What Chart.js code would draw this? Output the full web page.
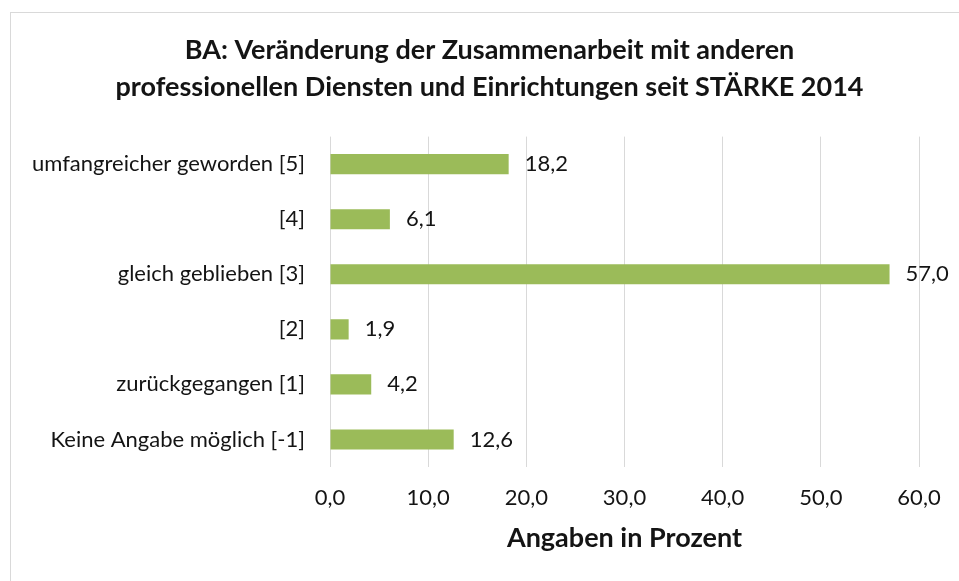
<!DOCTYPE html>
<html>
<head>
<meta charset="utf-8">
<script src="https://cdn.jsdelivr.net/npm/chart.js@4"></script>
<style>
  html, body { margin: 0; padding: 0; background: #fff; overflow: hidden; }
  #frame { position: absolute; left: 10px; top: 12px; width: 980px; height: 600px; border: 1px solid #d9d9d9; }
  #wrap { position: absolute; left: 0; top: 0; width: 959px; height: 581px; }
</style>
</head>
<body>
<div id="frame"></div>
<div id="wrap"><canvas id="chart"></canvas></div>
<script>
const categories = [
  'umfangreicher geworden [5]',
  '[4]',
  'gleich geblieben [3]',
  '[2]',
  'zurückgegangen [1]',
  'Keine Angabe möglich [-1]'
];
const percentages = [18.2, 6.1, 57.0, 1.9, 4.2, 12.6];
const titleLines = [
  'BA: Veränderung der Zusammenarbeit mit anderen',
  'professionellen Diensten und Einrichtungen seit STÄRKE 2014'
];
const axisTitle = 'Angaben in Prozent';

const fmt = v => v.toFixed(1).replace('.', ',');
const FONT = 'Lato';
const TEXT = '#141414';

const valueLabels = {
  id: 'valueLabels',
  afterDatasetsDraw(chart) {
    const ctx = chart.ctx;
    ctx.save();
    ctx.font = '22px ' + FONT;
    ctx.fillStyle = TEXT;
    ctx.textAlign = 'left';
    ctx.textBaseline = 'middle';
    chart.getDatasetMeta(0).data.forEach((bar, i) => {
      ctx.fillText(fmt(percentages[i]), bar.x + 16, bar.y);
    });
    ctx.restore();
  }
};

// the original title is centred on the whole frame, not on the padded area
const centreTitle = {
  id: 'centreTitle',
  afterLayout(chart) {
    if (chart.titleBlock) {
      chart.titleBlock.left = 60;
    }
  }
};

new Chart(document.getElementById('chart'), {
  type: 'bar',
  data: {
    labels: categories,
    datasets: [{
      data: percentages,
      backgroundColor: '#9bbb59',
      borderWidth: 0,
      categoryPercentage: 1,
      barPercentage: 0.365
    }]
  },
  plugins: [valueLabels, centreTitle],
  options: {
    indexAxis: 'y',
    responsive: true,
    maintainAspectRatio: false,
    animation: false,
    layout: { padding: { left: 0, right: 40, top: 0, bottom: 23 } },
    plugins: {
      legend: { display: false },
      tooltip: { enabled: false },
      title: {
        display: true,
        text: titleLines,
        color: TEXT,
        font: { family: FONT, size: 27, weight: 'bold', lineHeight: 1.4 },
        padding: { top: 31, bottom: 30 }
      }
    },
    scales: {
      x: {
        min: 0,
        max: 60,
        grid: { color: '#d9d9d9', drawTicks: false },
        border: { display: false },
        ticks: {
          stepSize: 10,
          padding: 18,
          color: TEXT,
          font: { family: FONT, size: 22 },
          callback: v => fmt(v)
        },
        title: {
          display: true,
          text: axisTitle,
          color: TEXT,
          font: { family: FONT, size: 27, weight: 'bold' },
          padding: { top: 10, bottom: 4 }
        },
        afterFit(scale) { scale.height = 91; }
      },
      y: {
        grid: { display: false, drawTicks: false },
        border: { display: false },
        ticks: {
          padding: 25,
          color: TEXT,
          font: { family: FONT, size: 22 }
        },
        afterFit(scale) { scale.width = 330; }
      }
    }
  }
});
</script>
</body>
</html>
